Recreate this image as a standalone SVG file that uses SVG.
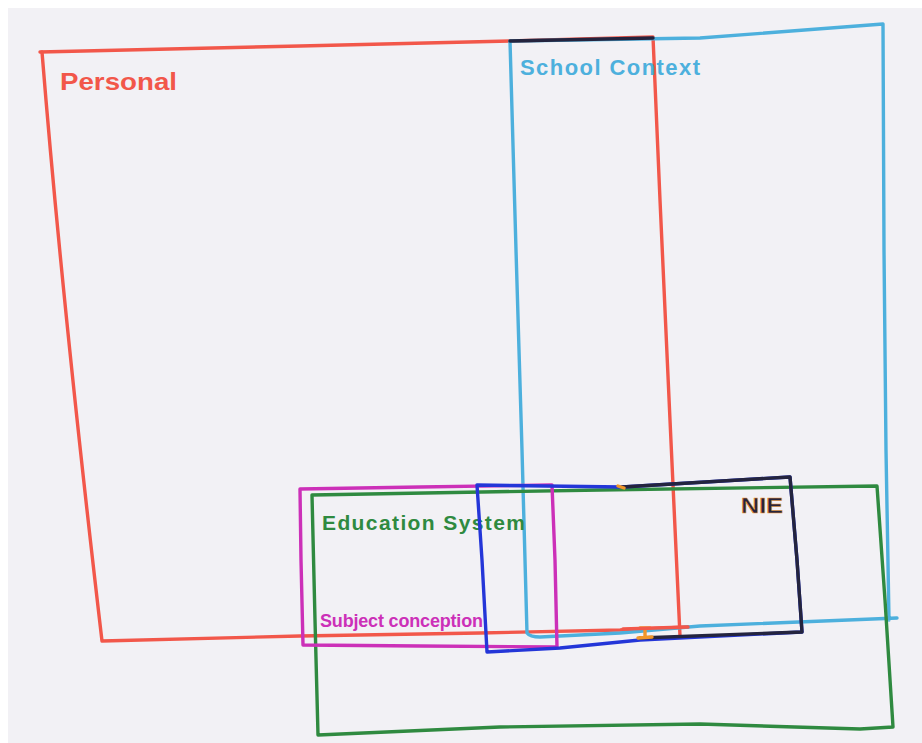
<svg xmlns="http://www.w3.org/2000/svg" width="922" height="743" viewBox="0 0 922 743">
<style>
.ln{fill:none;stroke-width:3.4;stroke-linejoin:round;stroke-linecap:round}
.lbl{font-family:"Liberation Sans","DejaVu Sans",sans-serif;font-weight:bold}
.red{stroke:#f2574a}.cyan{stroke:#4db0dd}.green{stroke:#2f8a40}.mag{stroke:#cc30b8}.blue{stroke:#2436d8}.dark{stroke:#24243e}.orange{stroke:#f0962a}
</style>
<rect x="0" y="0" width="922" height="743" fill="#ffffff"/>
<rect x="8" y="8" width="914" height="735" fill="#f2f1f5"/>
<g id="personal">
<path class="ln red" d="M40,52 L300,46 L510,41 L653,37 L660,200 L670,420 L680,636"/>
<path class="ln red" d="M42,52 Q62,300 102,641 L300,636 L480,633 L620,630 L688,627"/>
<text class="lbl" x="60" y="90" font-size="24" fill="#f2574a" textLength="117" lengthAdjust="spacingAndGlyphs">Personal</text>
</g>
<g id="school-context">
<path class="ln cyan" d="M510,41 L700,38 L883,24 L884,250 L886,450 L889,620 M510,41 L516,250 L522,450 L527,633 Q530,637 540,637 L620,633 L700,626 L897,618"/>
<path class="ln dark" d="M510,41 L653,38" stroke-width="2"/>
<text class="lbl" x="520" y="75" font-size="22" fill="#4db0dd" textLength="180" lengthAdjust="spacing">School Context</text>
</g>
<g id="education-system">
<path class="ln green" d="M312,495 L600,490 L877,486 L885,600 L893,727 L860,729 L700,724 L500,727 L318,735 L315,620 L312,495"/>
<text class="lbl" x="322" y="530" font-size="21" fill="#2f8a40" textLength="203" lengthAdjust="spacing">Education System</text>
</g>
<g id="subject-conception">
<path class="ln mag" d="M300,489 L420,487 L552,485 L555,560 L557,647 L420,646 L303,645 L301,560 Z"/>
<text class="lbl" x="320" y="627" font-size="18" fill="#cc30b8" textLength="163" lengthAdjust="spacing">Subject conception</text>
</g>
<g id="nie">
<path class="ln blue" d="M477,485 L622,487 L790,477 L797,560 L802,632 L640,640 L560,648 L487,652 L482,560 Z" stroke-width="3.8"/>
<path class="ln dark" d="M622,487 L790,477 L797,560 L802,632 L640,638" stroke-width="3.8"/>
<path class="ln orange" d="M618,486 L624,488 M640,628 L650,628 M645,628 L645,637 M638,638 L652,637" stroke-width="2.5"/>
<path class="ln red" d="M623,629 L688,627" stroke-width="3"/>
<text class="lbl" x="741" y="513" font-size="22" fill="#24243e" stroke="#f0962a" stroke-width="0.6" textLength="42" lengthAdjust="spacingAndGlyphs">NIE</text>
</g>
</svg>
